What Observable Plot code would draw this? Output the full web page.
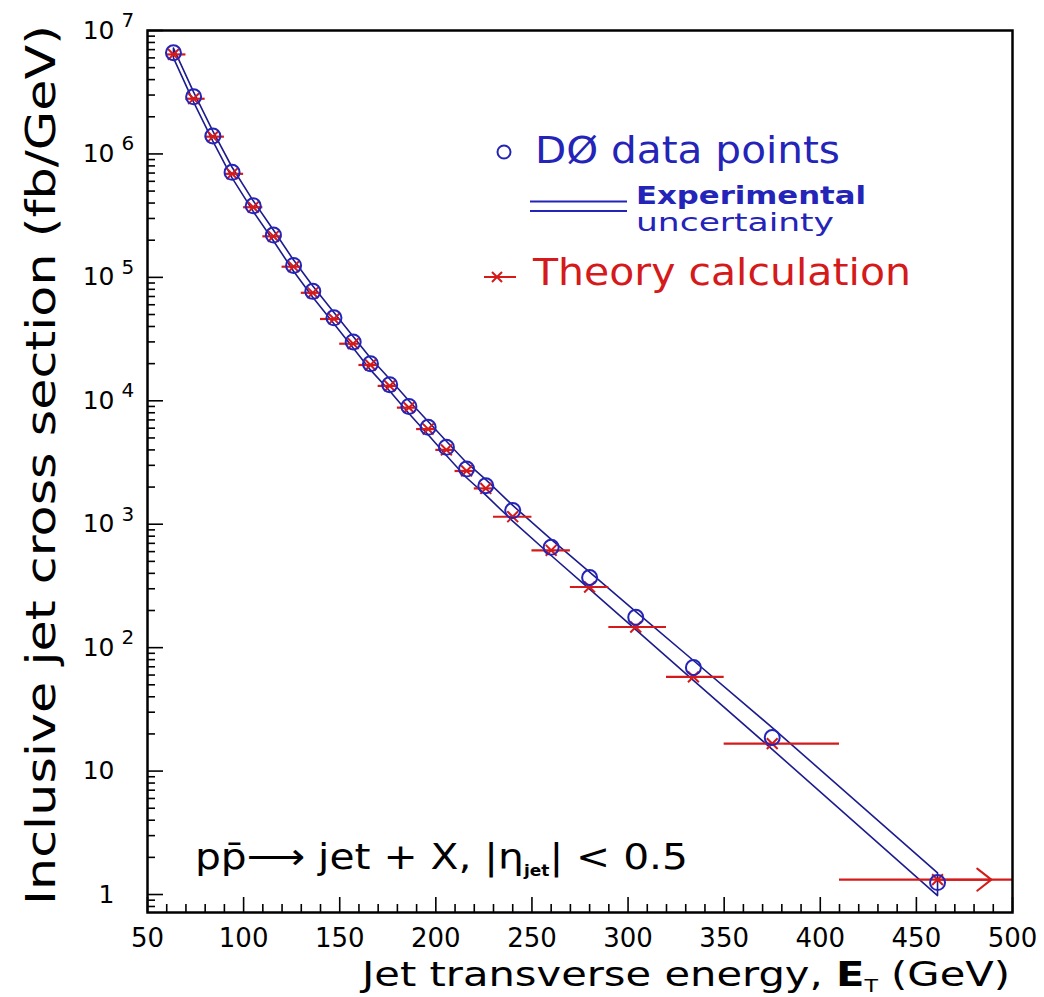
<!DOCTYPE html>
<html>
<head>
<meta charset="utf-8">
<script src="https://cdn.jsdelivr.net/npm/d3@7"></script>
<script src="https://cdn.jsdelivr.net/npm/@observablehq/plot@0.6"></script>
<style>
  html, body { margin: 0; padding: 0; background: #fff; }
  svg { display: block; }
</style>
</head>
<body>
<div id="chart"></div>
<script>
// ---------- data ----------
const energyGeV = [63.5, 74, 84, 94, 105, 115.5, 126, 136, 147, 157, 166, 176, 186, 196, 205.5, 216, 226, 240, 260, 280, 304, 334, 375, 461];
const d0CrossSection = [6.6e6, 2.9e6, 1.4e6, 7.1e5, 3.8e5, 2.2e5, 1.25e5, 7.7e4, 4.7e4, 3.0e4, 2.0e4, 1.35e4, 9.0e3, 6.1e3, 4.2e3, 2.8e3, 2.05e3, 1290, 650, 370, 176, 69, 18.7, 1.25];
const uncertaintyUpper = [7.2e6, 3.17e6, 1.53e6, 7.8e5, 4.17e5, 2.42e5, 1.38e5, 8.5e4, 5.2e4, 3.32e4, 2.22e4, 1.5e4, 1.0e4, 6.8e3, 4.7e3, 3.15e3, 2.3e3, 1420, 753, 409, 196, 78.7, 22.5, 1.5];
const uncertaintyLower = [6.0e6, 2.63e6, 1.27e6, 6.4e5, 3.42e5, 1.98e5, 1.12e5, 6.9e4, 4.2e4, 2.68e4, 1.78e4, 1.2e4, 7.9e3, 5.3e3, 3.6e3, 2.38e3, 1.72e3, 1060, 558, 298, 140, 54.4, 15.0, 0.98];
const theoryCrossSection = [6.4e6, 2.8e6, 1.38e6, 6.9e5, 3.7e5, 2.15e5, 1.22e5, 7.5e4, 4.6e4, 2.9e4, 1.95e4, 1.32e4, 8.8e3, 5.9e3, 4.0e3, 2.7e3, 1.95e3, 1150, 615, 310, 147, 58, 16.7, 1.32];
const binLow  = [60, 70, 80, 90, 100, 110, 120, 130, 140, 150, 160, 170, 180, 190, 200, 210, 220, 230, 250, 270, 290, 320, 350, 410];
const binHigh = [70, 80, 90, 100, 110, 120, 130, 140, 150, 160, 170, 180, 190, 200, 210, 220, 230, 250, 270, 290, 320, 350, 410, 500];
const openBinArrowAt = [489];

// ---------- axes ----------
const xMajorTicks = [50, 100, 150, 200, 250, 300, 350, 400, 450, 500];
const xMinorTicks = [60, 70, 80, 90, 110, 120, 130, 140, 160, 170, 180, 190, 210, 220, 230, 240, 260, 270, 280, 290, 310, 320, 330, 340, 360, 370, 380, 390, 410, 420, 430, 440, 460, 470, 480, 490];
const yMajorTicks = [1, 10, 1e2, 1e3, 1e4, 1e5, 1e6, 1e7];
const yTickBase = ["1", "10", "10", "10", "10", "10", "10", "10"];
const yTickExponent = ["", "", "2", "3", "4", "5", "6", "7"];
const yMinorMultipliers = [2, 3, 4, 5, 6, 7, 8, 9];
const yBelowOneTicks = [0.8, 0.9];

// ---------- texts ----------
const yLabel = "Inclusive jet cross section (fb/GeV)";
const xLabelParts = ["Jet transverse energy, ", "E", "T", " (GeV)"];
const processParts = ["pp\u0304\u27F6 jet + X, |\u03B7", "jet", "| < 0.5"];
const legendData = "D\u00D8 data points";
const legendBand = ["Experimental", "uncertainty"];
const legendTheory = "Theory calculation";

// ---------- colours ----------
const blue = "#2424b8";
const bandBlue = "#1c1c8e";
const red = "#d41a1a";

// ---------- tables built from the arrays ----------
const rows = energyGeV.map((e, i) => ({
  e, s: d0CrossSection[i], t: theoryCrossSection[i],
  lo: binLow[i], hi: binHigh[i], up: uncertaintyUpper[i], dn: uncertaintyLower[i]
}));
const band = [
  ...rows.map(d => ({e: d.e, v: d.up})),
  ...rows.slice().reverse().map(d => ({e: d.e, v: d.dn})),
  {e: rows[0].e, v: rows[0].up}
];
const last = rows[rows.length - 1];
const arrowRows = openBinArrowAt.map(x2 => ({x1: last.e, x2, y: last.t}));
const yTicks = yMajorTicks.map((v, i) => ({v, base: yTickBase[i], exp: yTickExponent[i]}));
const yMinorTicks = [...yBelowOneTicks];
yMajorTicks.slice(0, -1).forEach(d => yMinorMultipliers.forEach(m => yMinorTicks.push(m * d)));

const font = "DejaVu Sans";

const chart = Plot.plot({
  width: 1044,
  height: 997,
  marginLeft: 147,
  marginRight: 32,
  marginTop: 30,
  marginBottom: 85,
  style: {fontFamily: font, background: "white", color: "black"},
  x: {domain: [50, 500]},
  y: {type: "log", domain: [0.715, 1e7]},
  marks: [
    Plot.axisX(xMinorTicks, {tickSize: -8, fill: "none", stroke: "black", strokeWidth: 1.6}),
    Plot.axisX(xMajorTicks, {tickSize: -15, tickPadding: 31, fontSize: 26, label: null, stroke: "black", strokeWidth: 1.6, tickFormat: d => String(d)}),
    Plot.axisY(yMinorTicks, {tickSize: -8, fill: "none", stroke: "black", strokeWidth: 1.6}),
    Plot.axisY(yMajorTicks, {tickSize: -16, fill: "none", stroke: "black", strokeWidth: 1.6}),
    Plot.text(yTicks, {y: "v", text: "base", frameAnchor: "left", dx: -33, textAnchor: "end", fontSize: 25, fill: "black"}),
    Plot.text(yTicks, {y: "v", text: "exp", frameAnchor: "left", dx: -26, dy: -10, textAnchor: "start", fontSize: 20, fill: "black"}),
    Plot.line(band, {x: "e", y: "v", stroke: bandBlue, strokeWidth: 1.6}),
    Plot.ruleY(rows, {y: "t", x1: "lo", x2: "hi", stroke: red, strokeWidth: 2.2}),
    Plot.arrow(arrowRows, {x1: "x1", x2: "x2", y1: "y", y2: "y", stroke: red, strokeWidth: 2, headLength: 23, headAngle: 76}),
    Plot.dot(rows, {x: "e", y: "t", symbol: "times", r: 5, stroke: red, strokeWidth: 2}),
    Plot.dot(rows, {x: "e", y: "s", r: 7.5, stroke: blue, strokeWidth: 2, fill: "none"}),
    Plot.frame({stroke: "black", strokeWidth: 2.5})
  ]
});

document.getElementById("chart").appendChild(chart);

// ---------- rich text and legend ----------
const svg = d3.select(chart);
const g = svg.append("g").attr("font-family", font).attr("text-anchor", "start");

g.append("text")
  .attr("transform", "translate(55,465) rotate(-90)")
  .attr("text-anchor", "middle")
  .attr("font-size", 40)
  .attr("fill", "black")
  .attr("textLength", 880)
  .attr("lengthAdjust", "spacingAndGlyphs")
  .text(yLabel);

const xl = g.append("text")
  .attr("x", 362).attr("y", 986)
  .attr("font-size", 34)
  .attr("fill", "black")
  .attr("textLength", 648)
  .attr("lengthAdjust", "spacingAndGlyphs");
xl.append("tspan").text(xLabelParts[0]);
xl.append("tspan").attr("font-weight", "bold").text(xLabelParts[1]);
xl.append("tspan").attr("font-size", 18).attr("dy", 6).text(xLabelParts[2]);
xl.append("tspan").attr("dy", -6).text(xLabelParts[3]);

const pr = g.append("text")
  .attr("x", 195).attr("y", 869)
  .attr("font-size", 36)
  .attr("fill", "black")
  .attr("textLength", 493)
  .attr("lengthAdjust", "spacingAndGlyphs");
pr.append("tspan").text(processParts[0]);
pr.append("tspan").attr("font-size", 15).attr("font-weight", "bold").attr("dy", 7).text(processParts[1]);
pr.append("tspan").attr("dy", -7).text(processParts[2]);

// legend: data points
g.append("circle").attr("cx", 504).attr("cy", 152).attr("r", 6.5)
  .attr("fill", "none").attr("stroke", blue).attr("stroke-width", 2);
g.append("text").attr("x", 535).attr("y", 163).attr("font-size", 38)
  .attr("fill", blue).attr("textLength", 305).attr("lengthAdjust", "spacingAndGlyphs")
  .text(legendData);

// legend: experimental uncertainty
[201.5, 211].forEach(y => g.append("line")
  .attr("x1", 530).attr("x2", 627).attr("y1", y).attr("y2", y)
  .attr("stroke", blue).attr("stroke-width", 2.2));
g.append("text").attr("x", 636).attr("y", 204).attr("font-size", 24)
  .attr("fill", blue).attr("font-weight", "bold").attr("textLength", 230).attr("lengthAdjust", "spacingAndGlyphs")
  .text(legendBand[0]);
g.append("text").attr("x", 636).attr("y", 231).attr("font-size", 24)
  .attr("fill", blue).attr("textLength", 198).attr("lengthAdjust", "spacingAndGlyphs")
  .text(legendBand[1]);

// legend: theory
g.append("line").attr("x1", 484).attr("x2", 516).attr("y1", 277).attr("y2", 277)
  .attr("stroke", red).attr("stroke-width", 2);
g.append("path").attr("d", "M492,272L502,282M492,282L502,272")
  .attr("stroke", red).attr("stroke-width", 2).attr("fill", "none");
g.append("text").attr("x", 533).attr("y", 285).attr("font-size", 38)
  .attr("fill", red).attr("textLength", 378).attr("lengthAdjust", "spacingAndGlyphs")
  .text(legendTheory);
</script>
</body>
</html>
